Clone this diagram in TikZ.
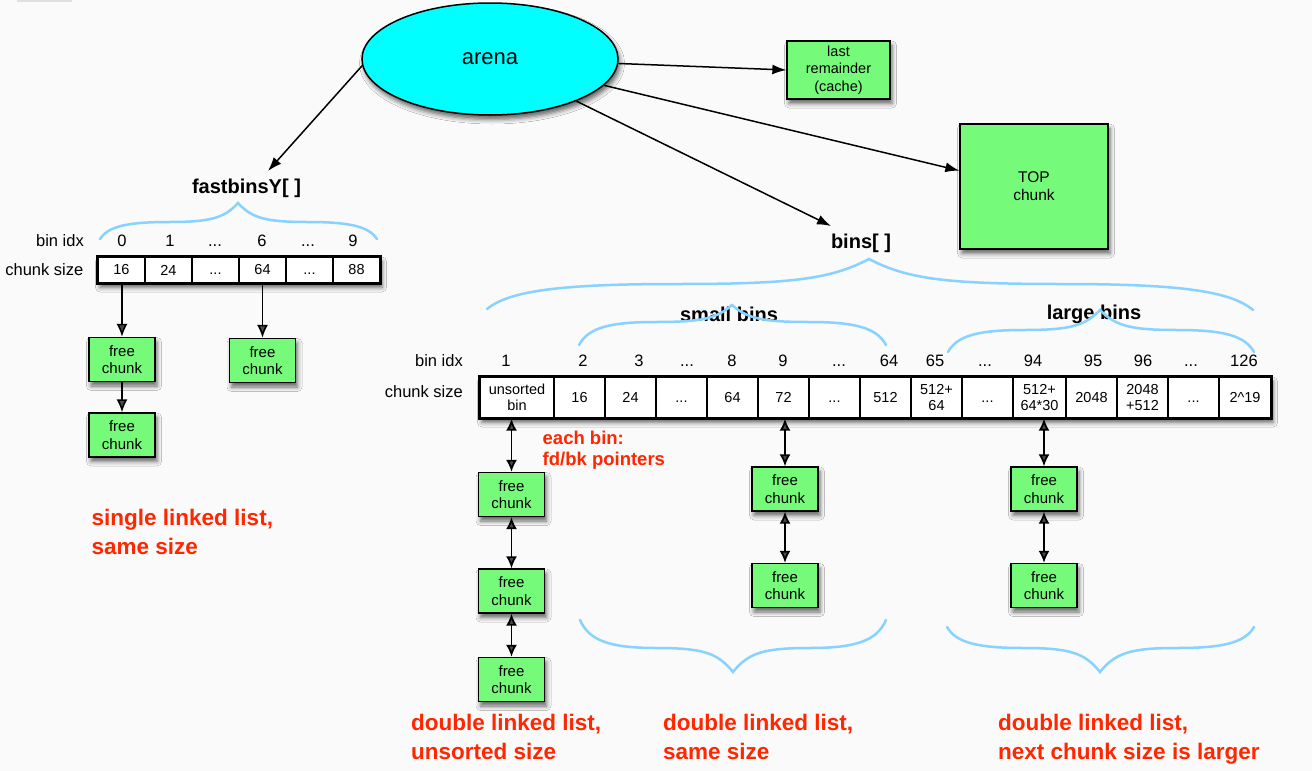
\documentclass[tikz,border=0pt]{standalone}
\usepackage{fontspec}
\setmainfont{Liberation Sans}
\usetikzlibrary{arrows.meta,shapes.geometric,shadows.blur}

\definecolor{pagebg}{HTML}{FAFAFA}
\definecolor{chunkgreen}{RGB}{118,250,122}
\definecolor{arenacyan}{RGB}{0,255,255}
\definecolor{bracecol}{RGB}{135,210,255}
\definecolor{notered}{RGB}{255,38,0}

% ellipsis that keeps the height of a digit, so it sits on the digits' baseline
\newcommand{\ellip}{\vphantom{0}...}

\tikzset{
  softshadow/.style={blur shadow={shadow xshift=2pt, shadow yshift=-4.5pt,
      shadow blur radius=4.5pt, shadow opacity=60}},
  chunkbox/.style={draw=black, line width=1.3pt, fill=chunkgreen,
      minimum width=66, minimum height=44, inner sep=0pt, align=center,
      font=\fontsize{15}{17.5}\selectfont, softshadow},
  cellbox/.style={draw=black, line width=1.3pt, fill=white, inner sep=0pt,
      align=center, font=\fontsize{14.5}{16}\selectfont},
  idxlabel/.style={font=\fontsize{16.5}{18}\selectfont, inner sep=0pt,
      text height=12pt, text depth=0pt},
  ptr/.style={line width=1.5pt, -{Latex[length=14pt,width=10pt]}},
  sptr/.style={line width=1.6pt, -{Latex[length=13pt,width=11pt]}},
  dptr/.style={line width=1.8pt,
      {Latex[length=12pt,width=11pt]}-{Latex[length=12pt,width=11pt]}},
  bracepath/.style={draw=bracecol, line width=2.5pt, line cap=round},
  heading/.style={font=\bfseries\fontsize{20}{22}\selectfont, inner sep=0pt},
  note/.style={text=notered, font=\bfseries\fontsize{22.5}{29}\selectfont,
      align=left, inner sep=0pt, anchor=north west},
  smallnote/.style={text=notered, font=\bfseries\fontsize{18.5}{21}\selectfont,
      align=left, inner sep=0pt, anchor=north west},
}

% curly brace: x0,y0 (first end), x1,y1 (second end), tip x,y, level of the flat part
\newcommand{\curlybrace}[7]{%
  \draw[bracepath] (#1,#2)
    .. controls ({#1+0.06*(#5-#1)},{#7+0.25*(#2-#7)}) and ({#1+0.2*(#5-#1)},#7) .. ({#1+0.5*(#5-#1)},#7)
    .. controls ({#1+0.8*(#5-#1)},#7) and ({#5-0.1*(#5-#1)},{#7+0.2*(#6-#7)}) .. (#5,#6)
    .. controls ({#5+0.1*(#3-#5)},{#7+0.2*(#6-#7)}) and ({#5+0.2*(#3-#5)},#7) .. ({#5+0.5*(#3-#5)},#7)
    .. controls ({#3-0.2*(#3-#5)},#7) and ({#3-0.06*(#3-#5)},{#7+0.25*(#4-#7)}) .. (#3,#4);}

\begin{document}
\begin{tikzpicture}[x=1pt, y=-1pt]
  \fill[pagebg] (0,0) rectangle (1312,771);
  \useasboundingbox (0,0) rectangle (1312,771);
  \fill[black!12] (17,0) rectangle (72,2);

  % ---------- arena and its direct children ----------
  \node[ellipse, draw=black, line width=1.5pt, fill=arenacyan,
        minimum width=256, minimum height=112, inner sep=0pt,
        font=\fontsize{22}{24}\selectfont, softshadow] (arena) at (490,59) {arena};

  \node[chunkbox, minimum width=103, minimum height=58,
        font=\fontsize{14.5}{17.5}\selectfont] (lastrem) at (838.5,70) {last\\remainder\\(cache)};
  \node[chunkbox, minimum width=148, minimum height=125,
        font=\fontsize{15.5}{18}\selectfont] (topchunk) at (1034,186.5) {TOP\\chunk};

  \node[heading] (fastlbl) at (246.5,188) {fastbinsY[ ]};
  \node[heading] (binslbl) at (861,243) {bins[ ]};
  \node[heading] (smalllbl) at (729,314) {small bins};
  \node[heading] (largelbl) at (1094,314) {large bins};

  \coordinate (fasttip) at (268,171);
  \coordinate (binstip) at (831,226);
  \draw[ptr] (arena.183) -- (fasttip);
  \draw[ptr] (arena.-2) -- (lastrem.west);
  \draw[ptr] (arena.-13) -- (topchunk.168);
  \draw[ptr] (arena.-26) -- (binstip);

  % ---------- fastbinsY array ----------
  \node[idxlabel, anchor=east] (fidx) at (84,240) {bin idx};
  \node[idxlabel, anchor=east] (fsize) at (83.5,269) {chunk size};
  \foreach \x/\t [count=\i] in {122/0,170/1,215/\ellip,262/6,308/\ellip,353/9}
    \node[idxlabel] (fi\i) at (\x,240) {\t};

  \fill[white, softshadow] (98,257) rectangle (380,283);
  \foreach \x/\t [count=\i] in {121.5/16,168.5/24,215.5/\ellip,262.5/64,309.5/\ellip,356.5/88}
    \node[cellbox, minimum width=47, minimum height=26] (f\i) at (\x,270) {\t};
  \draw[line width=2pt] (f1.north west) rectangle (f6.south east);

  \node[chunkbox] (fa1) at (122,359.5) {free\\chunk};
  \node[chunkbox] (fa2) at (122,435) {free\\chunk};
  \node[chunkbox] (fb1) at (262.5,360.5) {free\\chunk};
  \draw[sptr] (fa1.north |- f1.south) -- (fa1.north);
  \draw[sptr] (fa1) -- (fa2);
  \draw[sptr] (fb1.north |- f4.south) -- (fb1.north);

  \node[note] (fastnote) at (91.5,509) {single linked list,\\same size};

  % ---------- bins array ----------
  \node[idxlabel, anchor=east] (bidx) at (463,360) {bin idx};
  \node[idxlabel, anchor=east] (bsize) at (463,391) {chunk size};
  \foreach \x/\t [count=\i] in {506/1,583/2,639/3,687/\ellip,732/8,783/9,839/\ellip,889/64,
                                935/65,985/\ellip,1033/94,1093/95,1143/96,1191/\ellip,1244/126}
    \node[idxlabel] (bi\i) at (\x,360) {\t};

  \fill[white, softshadow] (480,377) rectangle (1271,418);
  \node[cellbox, minimum width=74, minimum height=41] (c1) at (517,397.5) {unsorted\\bin};
  \foreach \x/\t [count=\i from 2] in {579.5/16,630.5/24,681.5/\ellip,732.5/64,783.5/72,
                                       834.5/\ellip,885.5/512,936.5/{512+\\64},987.5/\ellip}
    \node[cellbox, minimum width=51, minimum height=41] (c\i) at (\x,397.5) {\t};
  \node[cellbox, minimum width=53, minimum height=41] (c11) at (1039.5,397.5) {512+\\64*30};
  \foreach \x/\t [count=\i from 12] in {1091.5/2048,1142.5/{2048\\+512},1193.5/\ellip}
    \node[cellbox, minimum width=51, minimum height=41] (c\i) at (\x,397.5) {\t};
  \node[cellbox, minimum width=52, minimum height=41] (c15) at (1245,397.5) {2\^{}19};
  \draw[line width=2pt] (c1.north west) rectangle (c15.south east);

  % unsorted bin chain
  \node[chunkbox] (u1) at (511.5,494.5) {free\\chunk};
  \node[chunkbox] (u2) at (511.5,591) {free\\chunk};
  \node[chunkbox] (u3) at (511.5,679.5) {free\\chunk};
  \draw[dptr] (u1.north |- c1.south) -- (u1.north);
  \draw[dptr] (u1) -- (u2);
  \draw[dptr] (u2) -- (u3);

  % small bin chain
  \node[chunkbox] (s1) at (785,489) {free\\chunk};
  \node[chunkbox] (s2) at (785,585.5) {free\\chunk};
  \draw[dptr] (s1.north |- c6.south) -- (s1.north);
  \draw[dptr] (s1) -- (s2);

  % large bin chain
  \node[chunkbox] (l1) at (1044,489) {free\\chunk};
  \node[chunkbox] (l2) at (1044,585.5) {free\\chunk};
  \draw[dptr] (l1.north |- c11.south) -- (l1.north);
  \draw[dptr] (l1) -- (l2);

  \node[smallnote] (ptrnote) at (542.5,431) {each bin:\\fd/bk pointers};
  \node[note] (unsnote) at (411,714) {double linked list,\\unsorted size};
  \node[note] (smallnote) at (663,714) {double linked list,\\same size};
  \node[note] (largenote) at (998,714) {double linked list,\\next chunk size is larger};

  % ---------- braces ----------
  \curlybrace{100}{239}{377}{239}{238}{203}{222}
  \curlybrace{487}{309}{1253}{310}{869}{259}{284}
  \curlybrace{579}{345}{886}{345}{732}{305}{322}
  \curlybrace{948}{352}{1254}{352}{1100}{310}{330}
  \curlybrace{580}{620}{886}{620}{733}{672}{648}
  \curlybrace{947}{627}{1254}{627}{1100}{672}{648}
\end{tikzpicture}
\end{document}
